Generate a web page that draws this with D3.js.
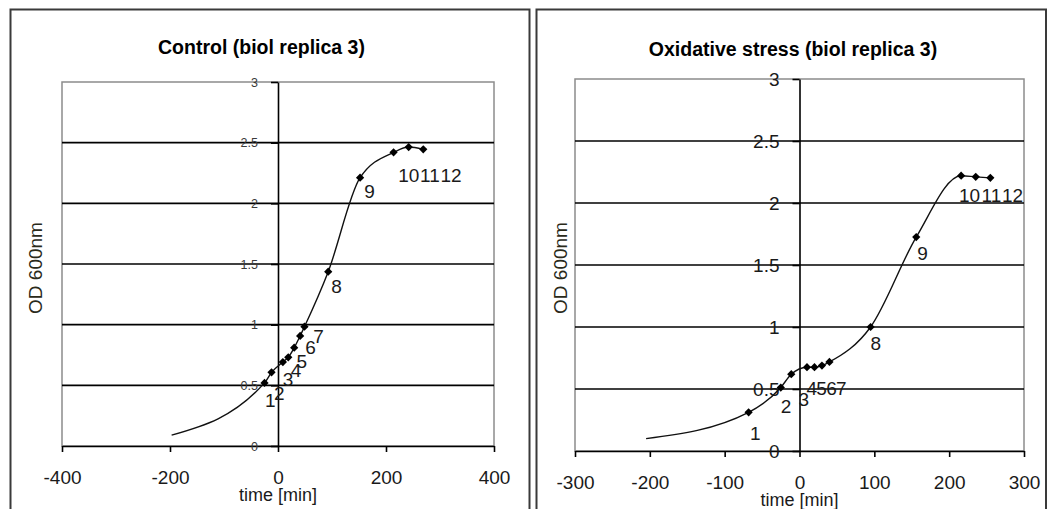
<!DOCTYPE html>
<html>
<head>
<meta charset="utf-8">
<script src="https://cdn.jsdelivr.net/npm/d3@7"></script>
<style>
  html, body { margin: 0; padding: 0; background: #fff; }
  svg { display: block; font-family: "Liberation Sans", Arial, sans-serif; }
</style>
</head>
<body>
<svg id="chart" width="1047" height="509"></svg>
<script>
// ---------- DATA ----------
const controlTitle = "Control (biol replica 3)";
const stressTitle = "Oxidative stress (biol replica 3)";
const xAxisTitle = "time [min]";
const yAxisTitle = "OD 600nm";

const sampleLabels = ["1","2","3","4","5","6","7","8","9","10","11","12"];

// Control: sampled points (time in min, OD600)
const controlTime = [-25, -12, 9, 19, 30, 41, 49, 93, 152, 214, 242, 269];
const controlOD   = [0.52, 0.607, 0.692, 0.731, 0.81, 0.907, 0.983, 1.437, 2.211, 2.42, 2.464, 2.445];
// start of the fitted growth line (no marker)
const controlStartTime = -197;
const controlStartOD = 0.09;

// Oxidative stress: sampled points
const stressTime = [-68, -25, -11, 10, 20, 30, 40, 95, 156, 216, 235.5, 255];
const stressOD   = [0.312, 0.512, 0.619, 0.676, 0.676, 0.689, 0.718, 1.0, 1.725, 2.22, 2.211, 2.203];
const stressStartTime = -205;
const stressStartOD = 0.10;

const controlXTicks = [-400, -200, 0, 200, 400];
const stressXTicks  = [-300, -200, -100, 0, 100, 200, 300];
const yTicks = [0, 0.5, 1, 1.5, 2, 2.5, 3];

// ---------- LAYOUT (label offsets in px relative to the marker) ----------
const controlLabelOffsets = [[5.7,17.3],[7.8,21],[5.1,17],[7.9,12.7],[7.5,13.3],[10.3,11.7],[14,9.3],[8.4,15],[9.4,13.3],[15.2,23.4],[21.3,28.7],[27.8,26.4]];
const stressLabelOffsets  = [[6.8,21.3],[5.3,18.7],[12.5,25],[4.9,21.3],[7.1,21.3],[9.6,23],[11.8,26.6],[5.3,16],[6.3,16.3],[8.4,19.3],[15.7,18.3],[22.2,17.3]];

const svg = d3.select("#chart");
const TEXT = "#1a1a1a";

// outer frames
svg.append("rect").attr("x", 10.5).attr("y", 9.5).attr("width", 519).attr("height", 520)
  .attr("fill", "#fff").attr("stroke", "#3a3a3a").attr("stroke-width", 2);
svg.append("rect").attr("x", 536.5).attr("y", 9.5).attr("width", 509.5).attr("height", 520)
  .attr("fill", "#fff").attr("stroke", "#3a3a3a").attr("stroke-width", 2);

function panel(cfg) {
  const g = svg.append("g");
  const x = d3.scaleLinear().domain(cfg.xDomain).range([cfg.left, cfg.right]);
  const y = d3.scaleLinear().domain([0, 3]).range([cfg.bottom, cfg.top]);

  // plot area
  g.append("rect").attr("x", cfg.left).attr("y", cfg.top)
    .attr("width", cfg.right - cfg.left).attr("height", cfg.bottom - cfg.top)
    .attr("fill", "#fff").attr("stroke", "#8c8c8c").attr("stroke-width", 1.5);

  // gridlines
  g.selectAll(".grid").data(yTicks.filter(v => v > 0 && v < 3)).join("line")
    .attr("x1", cfg.left).attr("x2", cfg.right)
    .attr("y1", d => y(d)).attr("y2", d => y(d))
    .attr("stroke", "#000").attr("stroke-width", 1.6);

  // x axis
  const xa = g.append("g").attr("transform", `translate(0,${y(0)})`)
    .call(d3.axisBottom(x).tickValues(cfg.xTicks).tickFormat(d => String(d))
      .tickSizeInner(6).tickSizeOuter(0).tickPadding(19));
  xa.select(".domain").attr("stroke", "#000").attr("stroke-width", 1.6);
  xa.selectAll(".tick line").attr("stroke", "#000").attr("stroke-width", 1.6);
  xa.selectAll(".tick text").attr("fill", TEXT).style("font-size", "19px")
    .style("font-family", "Liberation Sans, Arial, sans-serif");

  // y axis at time 0
  const ya = g.append("g").attr("transform", `translate(${x(0)},0)`)
    .call(d3.axisLeft(y).tickValues(yTicks).tickFormat(d => String(d))
      .tickSizeInner(7).tickSizeOuter(0).tickPadding(13));
  ya.select(".domain").attr("stroke", "#000").attr("stroke-width", 1.6);
  ya.selectAll(".tick line").attr("stroke", "#000").attr("stroke-width", 1.6);
  ya.selectAll(".tick text").attr("fill", cfg.yTickColor).style("font-size", cfg.yTickSize + "px")
    .style("font-family", "Liberation Sans, Arial, sans-serif");

  // growth curve
  const pts = [[cfg.startTime, cfg.startOD]].concat(cfg.time.map((t, i) => [t, cfg.od[i]]));
  g.append("path").datum(pts)
    .attr("d", d3.line().x(d => x(d[0])).y(d => y(d[1])).curve(d3.curveMonotoneX))
    .attr("fill", "none").attr("stroke", "#111").attr("stroke-width", 1.4);

  // markers
  const sym = d3.symbol().type(d3.symbolSquare).size(34);
  g.selectAll(".mk").data(cfg.time).join("path")
    .attr("d", sym)
    .attr("transform", (t, i) => `translate(${x(t)},${y(cfg.od[i])}) rotate(45)`)
    .attr("fill", "#000");

  // data labels
  g.selectAll(".lbl").data(sampleLabels).join("text")
    .attr("x", (d, i) => x(cfg.time[i]) + cfg.offsets[i][0])
    .attr("y", (d, i) => y(cfg.od[i]) + cfg.offsets[i][1])
    .attr("dy", "0.35em").attr("text-anchor", "middle")
    .attr("fill", TEXT).style("font-size", "19px")
    .text(d => d);

  // titles
  g.append("text").attr("x", cfg.titleX).attr("y", cfg.titleY).attr("dy", "0.35em")
    .attr("text-anchor", "middle").attr("fill", "#000")
    .style("font-size", "19.5px").style("font-weight", "bold").text(cfg.title);
  g.append("text").attr("x", (cfg.left + cfg.right) / 2).attr("y", y(0) + 48.5).attr("dy", "0.35em")
    .attr("text-anchor", "middle").attr("fill", TEXT).style("font-size", "18px").text(xAxisTitle);
  g.append("text").attr("transform", `translate(${cfg.yTitleX},268) rotate(-90)`).attr("dy", "0.35em")
    .attr("text-anchor", "middle").attr("fill", "#2a2a1a").style("font-size", "19px").text(yAxisTitle);
}

panel({
  xDomain: [-400, 400], left: 62, right: 494, top: 82, bottom: 446,
  xTicks: controlXTicks, time: controlTime, od: controlOD,
  startTime: controlStartTime, startOD: controlStartOD,
  offsets: controlLabelOffsets, yTickSize: 12.5, yTickColor: "#3a3a3a",
  title: controlTitle, titleX: 261.5, titleY: 47.5, yTitleX: 35.5
});
panel({
  xDomain: [-300, 300], left: 575, right: 1024, top: 79, bottom: 451,
  xTicks: stressXTicks, time: stressTime, od: stressOD,
  startTime: stressStartTime, startOD: stressStartOD,
  offsets: stressLabelOffsets, yTickSize: 19, yTickColor: TEXT,
  title: stressTitle, titleX: 793, titleY: 49, yTitleX: 560
});
</script>
</body>
</html>
